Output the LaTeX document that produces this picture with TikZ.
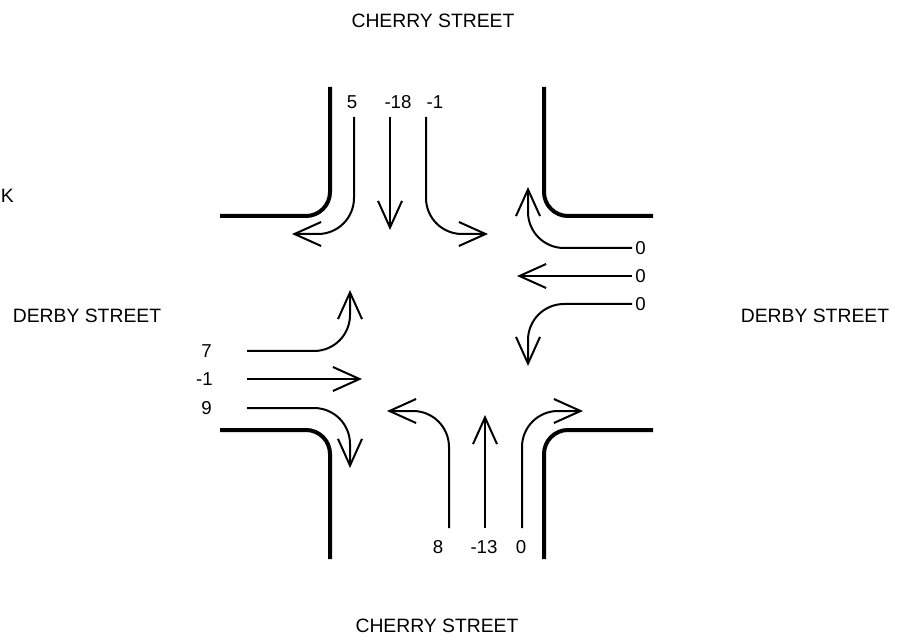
\documentclass[tikz,border=0pt]{standalone}
\usepackage{fontspec}
\setmainfont{Liberation Sans}
\usetikzlibrary{arrows.meta}

\tikzset{
  curb/.style={line width=3pt, rounded corners=18pt},
  lane/.style={line width=1.5pt, rounded corners=27pt,
    -{Straight Barb[length=20pt, width=18pt]}},
  count/.style={inner sep=0pt, font=\fontsize{14}{16}\selectfont},
  street/.style={inner sep=0pt, font=\fontsize{14.5}{17}\selectfont}
}

\begin{document}
\begin{tikzpicture}[x=0.75pt, y=-0.75pt]
    \useasboundingbox (0, 0) rectangle (899, 641);

    % Street names
    \node [street] (cherryN) at (433, 21) {CHERRY STREET};
    \node [street] (cherryS) at (437, 626) {CHERRY STREET};
    \node [street] (derbyW) at (87, 316) {DERBY STREET};
    \node [street] (derbyE) at (815, 316) {DERBY STREET};
    \node [street, anchor=west] (cut) at (0.5, 196) {K};

    % Curbs
    \draw [curb] (220, 216) -| (330, 87);
    \draw [curb] (653, 216) -| (544, 87);
    \draw [curb] (220, 430) -| (330, 559);
    \draw [curb] (653, 430) -| (544, 559);

    % Southbound
    \path (354, 117) coordinate (sbR) (390, 117) coordinate (sbT) (426, 117) coordinate (sbL);
    \node [count] (sbRn) at (352, 102) {5};
    \node [count] (sbTn) at (398, 102) {-18};
    \node [count] (sbLn) at (435, 102) {-1};
    \draw [lane] (sbR) |- (292, 234);
    \draw [lane] (sbT) -- (390, 230);
    \draw [lane] (sbL) |- (488, 234);

    % Westbound
    \path (632, 248) coordinate (wbR) (632, 276) coordinate (wbT) (632, 304) coordinate (wbL);
    \node [count, anchor=west] (wbRn) at (635, 248) {0};
    \node [count, anchor=west] (wbTn) at (635, 276) {0};
    \node [count, anchor=west] (wbLn) at (635, 304) {0};
    \draw [lane] (wbR) -| (528, 187);
    \draw [lane] (wbT) -- (517, 276);
    \draw [lane] (wbL) -| (528, 366);

    % Eastbound
    \path (247, 351) coordinate (ebL) (247, 379) coordinate (ebT) (247, 408) coordinate (ebR);
    \node [count, anchor=east] (ebLn) at (212, 351) {7};
    \node [count, anchor=east] (ebTn) at (213, 379) {-1};
    \node [count, anchor=east] (ebRn) at (212, 408) {9};
    \draw [lane] (ebL) -| (350, 290);
    \draw [lane] (ebT) -- (362, 379);
    \draw [lane] (ebR) -| (350, 468);

    % Northbound
    \path (449, 528) coordinate (nbL) (485, 528) coordinate (nbT) (522, 528) coordinate (nbR);
    \node [count] (nbLn) at (438, 547) {8};
    \node [count] (nbTn) at (484, 547) {-13};
    \node [count] (nbRn) at (521, 547) {0};
    \draw [lane] (nbL) |- (387, 411);
    \draw [lane] (nbT) -- (485, 415);
    \draw [lane] (nbR) |- (583, 411);
  \end{tikzpicture}
\end{document}
